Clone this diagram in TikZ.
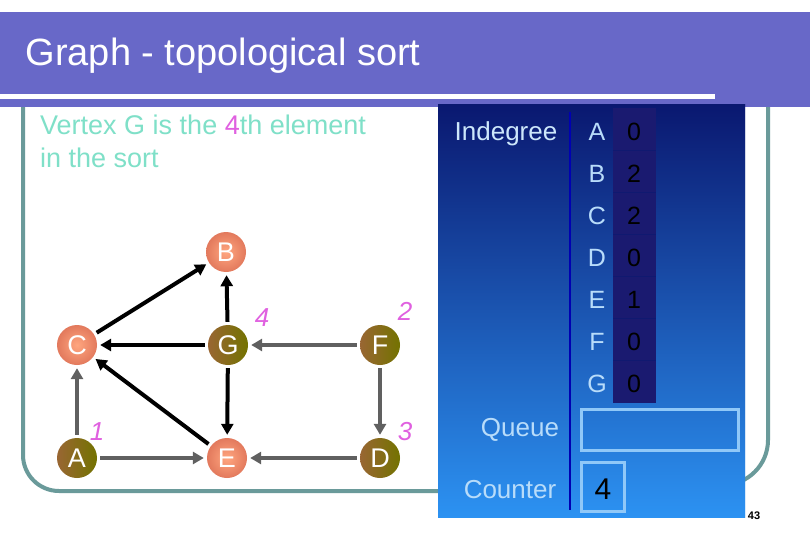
\documentclass[tikz,border=0pt]{standalone}
\usepackage{fontspec}
\setmainfont{Liberation Sans}
\usetikzlibrary{arrows.meta}
\definecolor{band}{HTML}{6868C8}
\definecolor{frame}{HTML}{6A9A9A}
\definecolor{aqua}{HTML}{7FE0C8}
\definecolor{vio}{HTML}{E060E0}
\definecolor{lblue}{HTML}{B8DCFA}
\definecolor{boxb}{HTML}{90C8F8}
\definecolor{navy}{HTML}{0A1870}
\definecolor{bright}{HTML}{2C92F2}
\definecolor{cell}{HTML}{1A1A70}
\definecolor{edgegray}{HTML}{606060}
\tikzset{
 vtx/.style={circle,minimum size=40pt,inner sep=0pt,text=white,font=\fontsize{27}{27}\selectfont},
 light/.style={vtx,shading=radial,inner color=orange!60!red!50!white,outer color=red!40!brown!75!white},
 dark/.style={vtx,left color=brown!80!black,right color=olive!90!black},
 blk/.style={line width=4pt,-{Triangle[length=11pt,width=12pt]},black,shorten >=3pt,shorten <=3pt},
 gry/.style={blk,draw=edgegray},
 ord/.style={text=vio,font=\itshape\fontsize{26}{26}\selectfont},
 tbl/.style={text=lblue,font=\fontsize{25}{25}\selectfont},
 val/.style={text=black,font=\fontsize{25}{25}\selectfont},
}
\begin{document}
\begin{tikzpicture}[x=1pt,y=-1pt]
\useasboundingbox (0,0) rectangle (810,540);
\fill[white] (0,0) rectangle (810,540);
% frame
\draw[frame,line width=4pt] (23,105) -- (23,455) arc[start angle=180,end angle=90,radius=36] -- (440,491);
\draw[frame,line width=4pt] (768,105) -- (768,440) arc[start angle=0,end angle=90,radius=45] -- (744,485);
% title band
\fill[band] (0,12) rectangle (785,107);
\fill[band] (715,95) rectangle (810,107);
\fill[band] (785,12) rectangle (810,95);
\fill[white] (0,94) rectangle (715,99);
\node[anchor=west,text=white,font=\fontsize{38}{38}\selectfont] (title) at (22,56) {Graph - topological sort};
% text
\node[anchor=north west,align=left,text=aqua,font=\fontsize{27}{33}\selectfont,inner sep=0pt] (txt) at (40,115) {Vertex G is the \textcolor{vio}{4}th element\\in the sort};
% panel
\shade[left color=navy,right color=bright,shading angle=0] (438,105) rectangle (745,517);
\shade[top color=navy,bottom color=bright,opacity=0.5] (438,105) rectangle (745,517);
\draw[blue!70!black,line width=2pt] (570,112) -- (570,510);
\fill[cell] (613,108) rectangle (656,403);
\foreach \y in {150,192,234,276,318,360} \draw[navy!60!cell,line width=0.8pt] (613,\y) -- (656,\y);
\node[text=lblue!70!white,font=\fontsize{26}{26}\selectfont] (ind) at (506,134) {Indegree};
\foreach \l/\v [count=\i from 0] in {A/0,B/2,C/2,D/0,E/1,F/0,G/0}{
 \node[tbl] (l\l) at (597,{132+42*\i}) {\l};
 \node[val] (v\l) at (634,{132+42*\i}) {\v};
}
\node[text=lblue,font=\fontsize{26}{26}\selectfont] (q) at (520,430) {Queue};
\draw[boxb,line width=3pt] (581,409) rectangle (738,450);
\node[text=lblue,font=\fontsize{26}{26}\selectfont] (cnt) at (510,490) {Counter};
\draw[boxb,line width=3pt] (581,462) rectangle (624,511);
\node[val,font=\fontsize{30}{30}\selectfont] (four) at (603,489) {4};
\node[font=\bfseries\fontsize{11}{11}\selectfont] (pg) at (754,516) {43};
% graph
\node[light] (B) at (226,252) {B};
\node[light] (C) at (77,345) {C};
\node[dark] (G) at (228,345) {G};
\node[dark] (F) at (380,345) {F};
\node[dark] (A) at (77,458) {A};
\node[light] (E) at (227,458) {E};
\node[dark] (D) at (380,458) {D};
\draw[blk] (C) -- (B);
\draw[blk] (G) -- (B);
\draw[blk] (G) -- (C);
\draw[blk] (E) -- (C);
\draw[blk] (G) -- (E);
\draw[gry] (A) -- (C);
\draw[gry] (A) -- (E);
\draw[gry] (F) -- (G);
\draw[gry] (F) -- (D);
\draw[gry] (D) -- (E);
\node[ord] (o1) at (97,432) {1};
\node[ord] (o4) at (262,318) {4};
\node[ord] (o2) at (405,311) {2};
\node[ord] (o3) at (405,432) {3};
\end{tikzpicture}
\end{document}
